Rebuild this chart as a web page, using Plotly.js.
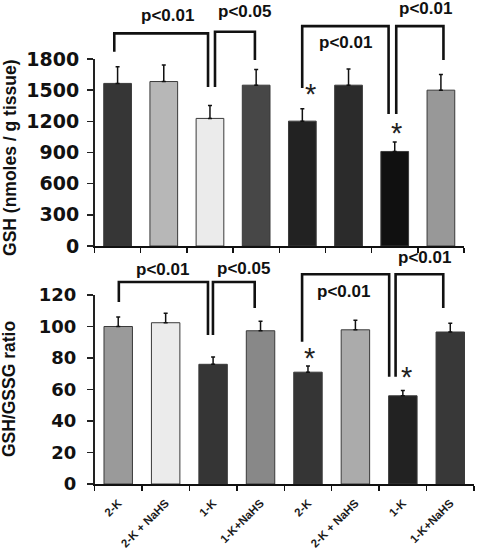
<!DOCTYPE html>
<html>
<head>
<meta charset="utf-8">
<script src="https://cdn.plot.ly/plotly-3.0.1.min.js"></script>
<style>
  html, body { margin: 0; padding: 0; background: #fff; }
  #chart { width: 478px; height: 556px; }
</style>
</head>
<body>
<div id="chart"></div>
<script>
// ---- data ----
var groups = ['2-K', '2-K + NaHS', '1-K', '1-K+NaHS', '2-K', '2-K + NaHS', '1-K', '1-K+NaHS'];
var gshValues = [1565, 1583, 1228, 1548, 1202, 1548, 910, 1500];
var gshErrors = [160, 160, 125, 150, 120, 155, 90, 150];
var ratioValues = [100, 102.4, 76, 97.3, 71, 97.9, 56, 96.5];
var ratioErrors = [6, 6, 4.6, 6, 4, 6, 3.3, 5.5];
var gshTicks = [0, 300, 600, 900, 1200, 1500, 1800];
var ratioTicks = [0, 20, 40, 60, 80, 100, 120];
var gshColors = ['#363636', '#b7b7b7', '#ebebeb', '#474747', '#222222', '#2b2b2b', '#101010', '#989898'];
var ratioColors = ['#9a9a9a', '#ebebeb', '#353535', '#888888', '#353535', '#ababab', '#222222', '#383838'];
var pLabels = ['p<0.01', 'p<0.05', 'p<0.01', 'p<0.01'];

var pos = groups.map(function (_, i) { return i; });

var FONT = 'Liberation Sans, Arial, sans-serif';
var WIDE = 'DejaVu Sans, Liberation Sans, sans-serif';

var errStyle = { type: 'data', symmetric: false, arrayminus: groups.map(function () { return 0; }),
                 color: '#111', thickness: 1.5, width: 2 };

var traces = [
  {
    type: 'bar', x: pos, y: gshValues, xaxis: 'x', yaxis: 'y', width: 0.6,
    marker: { color: gshColors, line: { color: '#3a3a3a', width: 1 } },
    error_y: Object.assign({ array: gshErrors }, errStyle),
    showlegend: false, hoverinfo: 'y'
  },
  {
    type: 'bar', x: pos, y: ratioValues, xaxis: 'x2', yaxis: 'y2', width: 0.6,
    marker: { color: ratioColors, line: { color: '#3a3a3a', width: 1 } },
    error_y: Object.assign({ array: ratioErrors }, errStyle),
    showlegend: false, hoverinfo: 'y'
  }
];

function minorTicks() {
  return { tick0: -0.5, dtick: 1, ticks: 'outside', ticklen: 5, tickwidth: 1.5, tickcolor: '#111' };
}

// bracket helper: legs go from yL (left bottom) up to yTop, across, down to yR
function bracket(xr, x0, x1, yL, yTop, yR) {
  return {
    type: 'path', xref: xr, yref: 'paper',
    path: 'M ' + x0 + ',' + yL + ' L ' + x0 + ',' + yTop + ' L ' + x1 + ',' + yTop + ' L ' + x1 + ',' + yR,
    line: { color: '#111', width: 2.6 }
  };
}

var shapes = [
  bracket('x', -0.072, 1.958, 0.907, 0.940, 0.8435),
  bracket('x', 2.109, 2.973, 0.8435, 0.943, 0.892),
  bracket('x', 3.997, 5.867, 0.8417, 0.953, 0.795),
  bracket('x', 6.033, 7.055, 0.795, 0.953, 0.892),
  bracket('x2', 0.013, 1.892, 0.4568, 0.4928, 0.3975),
  bracket('x2', 1.997, 2.877, 0.3975, 0.4928, 0.446),
  bracket('x2', 3.876, 5.712, 0.3854, 0.5067, 0.3225),
  bracket('x2', 5.847, 6.852, 0.3225, 0.5067, 0.446)
];

function pAnn(xr, x, y, text) {
  return { xref: xr, yref: 'paper', x: x, y: y, text: text, showarrow: false,
           xanchor: 'center', yanchor: 'middle',
           font: { family: FONT, size: 17, color: '#111', weight: 'bold' } };
}
function star(xr, x, y) {
  return { xref: xr, yref: 'paper', x: x, y: y, text: '*', showarrow: false,
           xanchor: 'center', yanchor: 'middle',
           font: { family: FONT, size: 29, color: '#222' } };
}

var annotations = [
  pAnn('x', 1.081, 0.973, pLabels[0]),
  pAnn('x', 2.757, 0.979, pLabels[1]),
  pAnn('x', 4.932, 0.9232, pLabels[2]),
  pAnn('x', 6.66, 0.985, pLabels[3]),
  pAnn('x2', 0.929, 0.5156, pLabels[0]),
  pAnn('x2', 2.651, 0.5174, pLabels[1]),
  pAnn('x2', 4.756, 0.4754, pLabels[2]),
  pAnn('x2', 6.466, 0.5372, pLabels[3]),
  star('x', 4.176, 0.8309),
  star('x', 6.049, 0.7608),
  star('x2', 4.038, 0.357),
  star('x2', 6.08, 0.322),
  { xref: 'paper', yref: 'paper', x: 0.021, y: 0.716, text: 'GSH (nmoles / g tissue)',
    textangle: -90, showarrow: false, xanchor: 'center', yanchor: 'middle',
    font: { family: FONT, size: 17.5, color: '#111', weight: 'bold' } },
  { xref: 'paper', yref: 'paper', x: 0.019, y: 0.3004, text: 'GSH/GSSG ratio',
    textangle: -90, showarrow: false, xanchor: 'center', yanchor: 'middle',
    font: { family: FONT, size: 17.5, color: '#111', weight: 'bold' } }
];

var layout = {
  width: 478, height: 556,
  margin: { l: 0, r: 0, t: 0, b: 0 },
  paper_bgcolor: '#fff', plot_bgcolor: '#fff',
  showlegend: false,
  xaxis: {
    domain: [94.5 / 478, 464 / 478], range: [-0.5, 7.5], anchor: 'y',
    showgrid: false, zeroline: false, showline: true, linecolor: '#111', linewidth: 2,
    ticks: '', showticklabels: false, minor: minorTicks(), fixedrange: true
  },
  yaxis: {
    domain: [(556 - 246) / 556, (556 - 59) / 556], range: [0, 1800], anchor: 'x',
    tickmode: 'array', tickvals: gshTicks, ticktext: gshTicks.map(String),
    showgrid: false, zeroline: false, showline: true, linecolor: '#222', linewidth: 1.5,
    ticks: 'outside', ticklen: 6, tickwidth: 1.5, tickcolor: '#222',
    ticklabelstandoff: 4,
    tickfont: { family: WIDE, size: 19, color: '#111', weight: 'bold' }, fixedrange: true
  },
  xaxis2: {
    domain: [94.5 / 478, 474 / 478], range: [-0.5, 7.5], anchor: 'y2',
    showgrid: false, zeroline: false, showline: true, linecolor: '#111', linewidth: 2,
    tickmode: 'array', tickvals: pos, ticktext: groups, ticks: '', tickangle: -45,
    ticklabelstandoff: 6,
    tickfont: { family: FONT, size: 11.5, color: '#1a1a1a', weight: 'bold' },
    minor: minorTicks(), fixedrange: true
  },
  yaxis2: {
    domain: [(556 - 484) / 556, (556 - 295) / 556], range: [0, 120], anchor: 'x2',
    tickmode: 'array', tickvals: ratioTicks, ticktext: ratioTicks.map(String),
    showgrid: false, zeroline: false, showline: true, linecolor: '#222', linewidth: 1.5,
    ticks: 'outside', ticklen: 6, tickwidth: 1.5, tickcolor: '#222',
    ticklabelstandoff: 7,
    tickfont: { family: WIDE, size: 18, color: '#111', weight: 'bold' }, fixedrange: true
  },
  shapes: shapes,
  annotations: annotations
};

Plotly.newPlot('chart', traces, layout, { staticPlot: true, displayModeBar: false });
</script>
</body>
</html>
